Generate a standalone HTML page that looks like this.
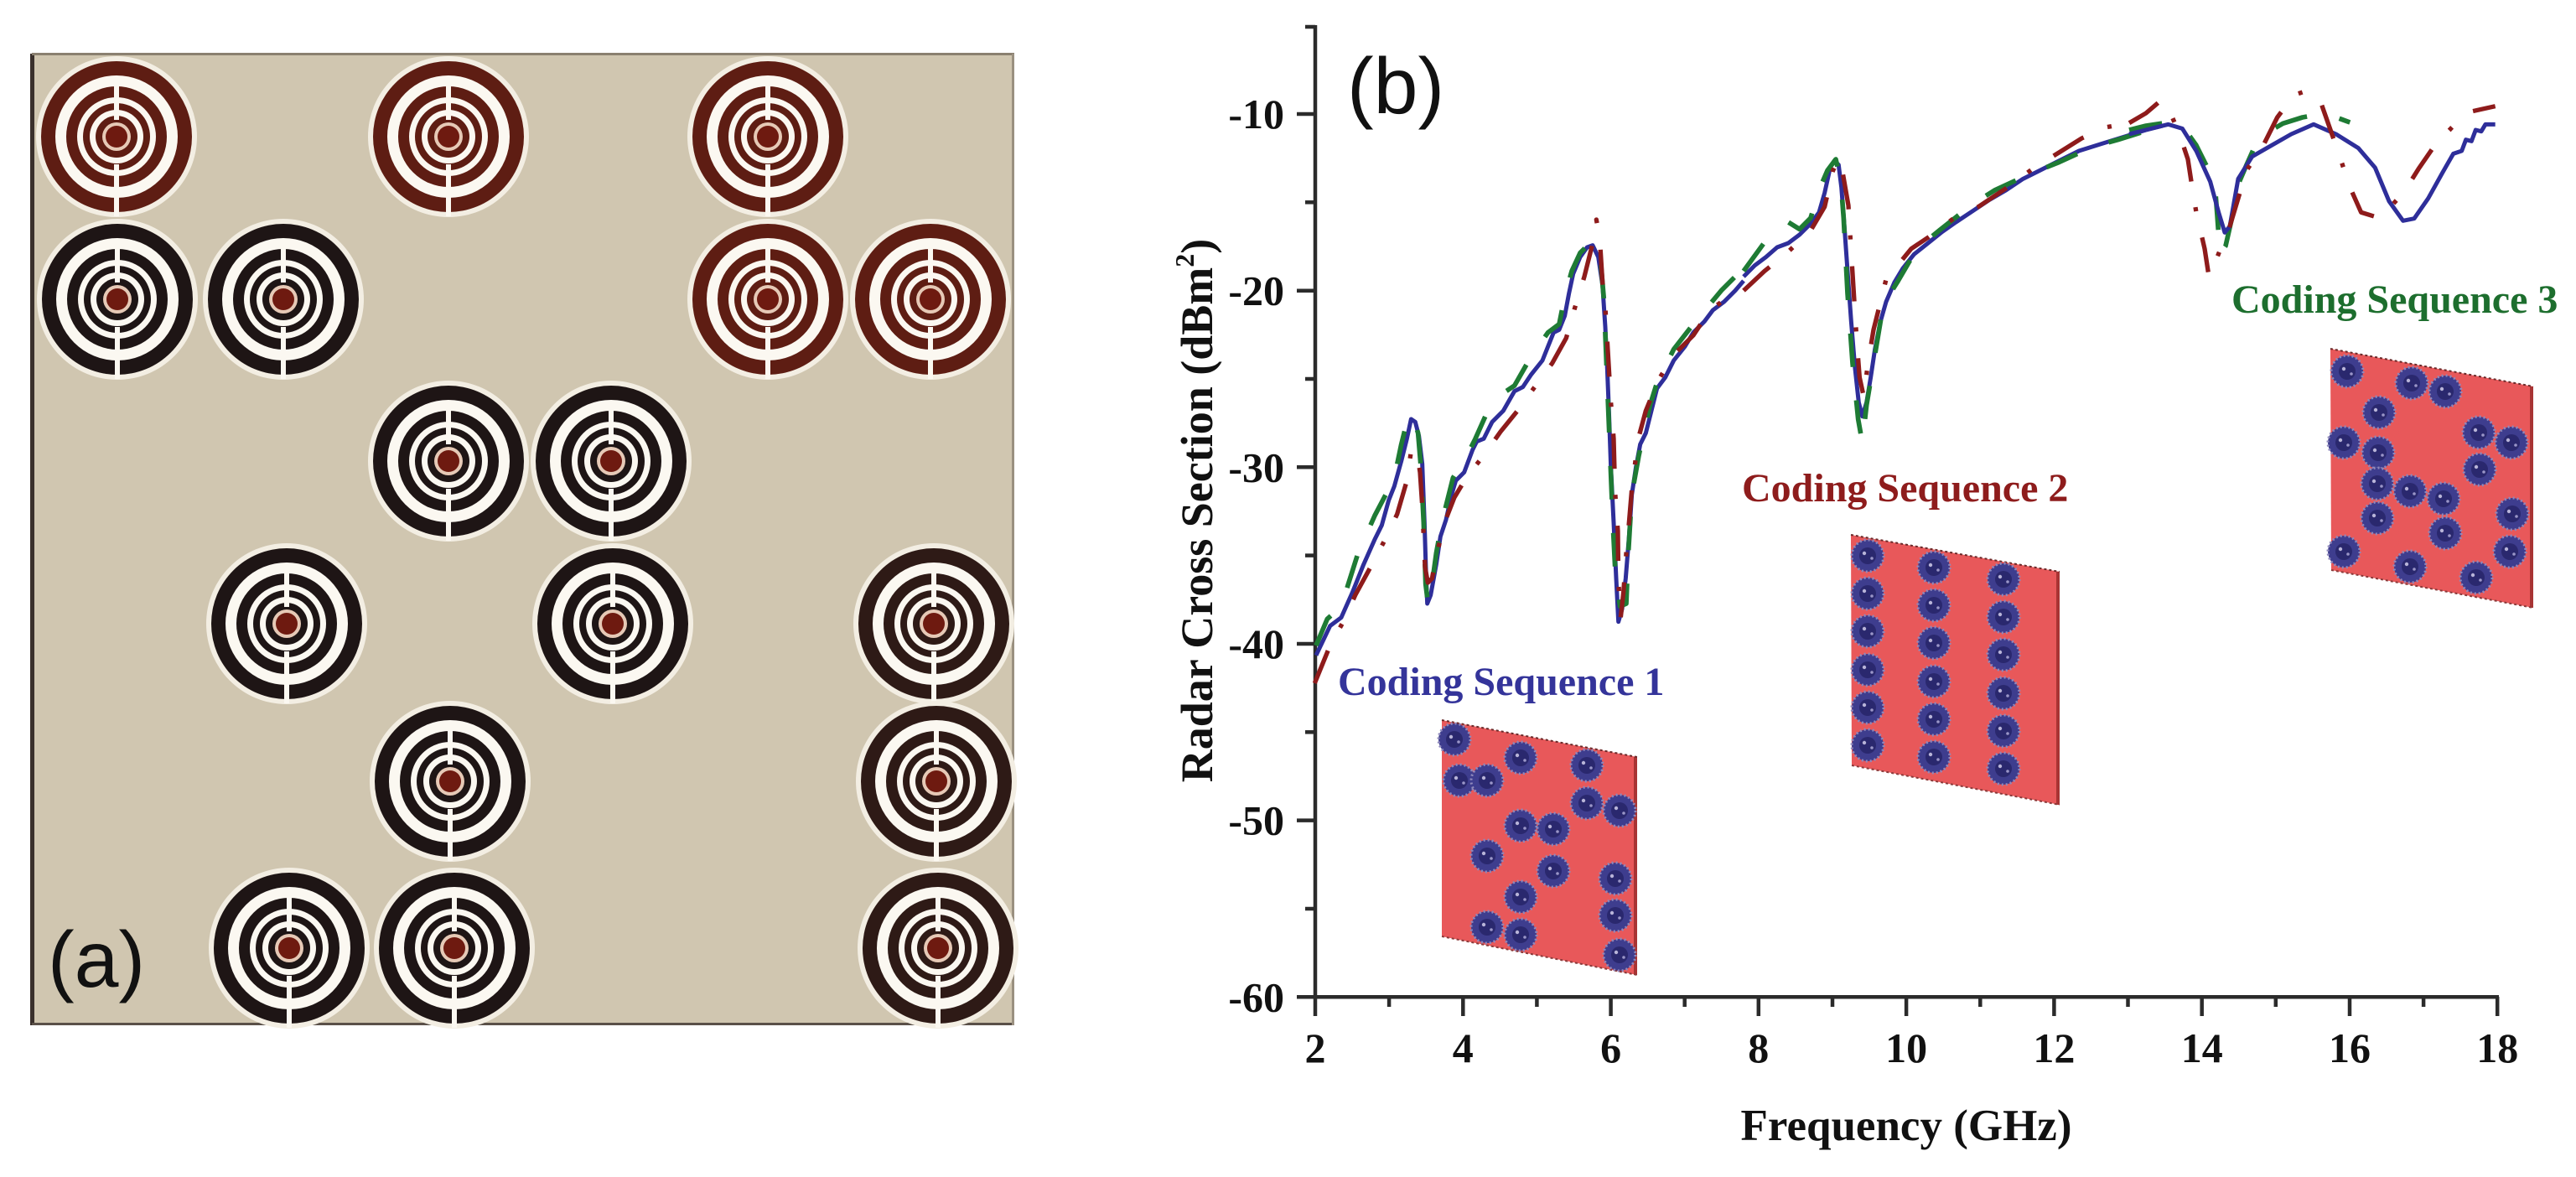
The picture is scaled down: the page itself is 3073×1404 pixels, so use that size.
<!DOCTYPE html>
<html>
<head>
<meta charset="utf-8">
<style>
html,body{margin:0;padding:0;background:#fff;}
svg{display:block;}
.tk{font-family:"Liberation Serif",serif;font-weight:bold;font-size:50px;fill:#111;}
.ttl{font-family:"Liberation Serif",serif;font-weight:bold;font-size:53px;fill:#111;}
.cs{font-family:"Liberation Serif",serif;font-weight:bold;font-size:48px;}
.lab{font-family:"Liberation Sans",sans-serif;font-size:95px;fill:#111;}
</style>
</head>
<body>
<svg width="3073" height="1404" viewBox="0 0 3073 1404" xmlns="http://www.w3.org/2000/svg">
<defs>
  <g id="res">
    <circle r="96" fill="#f3eee3"/>
    <circle r="90" fill="currentColor"/>
    <circle r="73" fill="#fbf8f1"/>
    <circle r="60" fill="currentColor"/>
    <circle r="47" fill="#fbf8f1"/>
    <circle r="40" fill="currentColor"/>
    <circle r="32" fill="#fbf8f1"/>
    <circle r="25" fill="currentColor"/>
    <circle r="17" fill="#e6c9b6"/>
    <circle r="13" fill="#6e1a10"/>
    <rect x="-3" y="-67" width="6" height="47" fill="#fbf8f1"/>
    <rect x="-3" y="33" width="6" height="62" fill="#fbf8f1"/>
  </g>
  <g id="cell">
    <circle r="19" fill="#3e3d8e" stroke="#8f89bc" stroke-width="3" stroke-dasharray="2 3"/>
    <circle r="10" fill="#2a286e"/>
    <circle cx="-4" cy="-3" r="2.2" fill="#b8b4d8"/>
    <circle cx="5" cy="3" r="1.8" fill="#9a96c8"/>
  </g>
</defs>

<!-- ===== Panel (a): photo ===== -->
<rect x="38" y="64" width="1172" height="1159" fill="#d0c6b0"/>
<rect x="36" y="64" width="5" height="1159" fill="#3a302c"/>
<rect x="38" y="63" width="1172" height="3" fill="#8a8070"/>
<rect x="38" y="1220" width="1172" height="3" fill="#5a5048"/>
<rect x="1207" y="64" width="3" height="1159" fill="#9a9080"/>

<g style="color:#5e1d13">
  <use href="#res" x="139" y="163"/>
  <use href="#res" x="535" y="163"/>
  <use href="#res" x="916" y="163"/>
  <use href="#res" x="916" y="357"/>
  <use href="#res" x="1110" y="357"/>
</g>
<g style="color:#1e1515">
  <use href="#res" x="140" y="357"/>
  <use href="#res" x="338" y="357"/>
  <use href="#res" x="535" y="550"/>
  <use href="#res" x="729" y="550"/>
  <use href="#res" x="342" y="744"/>
  <use href="#res" x="731" y="744"/>
  <use href="#res" x="537" y="932"/>
  <use href="#res" x="345" y="1131"/>
  <use href="#res" x="542" y="1131"/>
</g>
<g style="color:#2e1a16">
  <use href="#res" x="1114" y="744"/>
  <use href="#res" x="1117" y="932"/>
  <use href="#res" x="1119" y="1131"/>
</g>
<text class="lab" x="57" y="1177">(a)</text>

<!-- ===== Panel (b) ===== -->
<text class="lab" x="1607" y="135">(b)</text>

<!-- axes -->
<g stroke="#2b2b2b" stroke-width="4.5" fill="none">
  <line x1="1569" y1="30" x2="1569" y2="1191"/>
  <line x1="1547" y1="1189.3" x2="2981" y2="1189.3"/>
  <line x1="1547" y1="136" x2="1569" y2="136"/>
  <line x1="1547" y1="346.7" x2="1569" y2="346.7"/>
  <line x1="1547" y1="557.3" x2="1569" y2="557.3"/>
  <line x1="1547" y1="768" x2="1569" y2="768"/>
  <line x1="1547" y1="978.6" x2="1569" y2="978.6"/>
  <line x1="1557" y1="32" x2="1569" y2="32"/>
  <line x1="1557" y1="241.3" x2="1569" y2="241.3"/>
  <line x1="1557" y1="452" x2="1569" y2="452"/>
  <line x1="1557" y1="662.6" x2="1569" y2="662.6"/>
  <line x1="1557" y1="873.3" x2="1569" y2="873.3"/>
  <line x1="1557" y1="1084" x2="1569" y2="1084"/>
  <line x1="1569" y1="1189" x2="1569" y2="1212"/>
  <line x1="1745.3" y1="1189" x2="1745.3" y2="1212"/>
  <line x1="1921.6" y1="1189" x2="1921.6" y2="1212"/>
  <line x1="2097.8" y1="1189" x2="2097.8" y2="1212"/>
  <line x1="2274.1" y1="1189" x2="2274.1" y2="1212"/>
  <line x1="2450.4" y1="1189" x2="2450.4" y2="1212"/>
  <line x1="2626.7" y1="1189" x2="2626.7" y2="1212"/>
  <line x1="2803" y1="1189" x2="2803" y2="1212"/>
  <line x1="2979.2" y1="1189" x2="2979.2" y2="1212"/>
  <line x1="1657.1" y1="1189" x2="1657.1" y2="1201"/>
  <line x1="1833.4" y1="1189" x2="1833.4" y2="1201"/>
  <line x1="2009.7" y1="1189" x2="2009.7" y2="1201"/>
  <line x1="2186" y1="1189" x2="2186" y2="1201"/>
  <line x1="2362.3" y1="1189" x2="2362.3" y2="1201"/>
  <line x1="2538.5" y1="1189" x2="2538.5" y2="1201"/>
  <line x1="2714.8" y1="1189" x2="2714.8" y2="1201"/>
  <line x1="2891.1" y1="1189" x2="2891.1" y2="1201"/>
</g>

<!-- y tick labels -->
<g class="tk" text-anchor="end">
  <text x="1532" y="153">-10</text>
  <text x="1532" y="363.7">-20</text>
  <text x="1532" y="574.3">-30</text>
  <text x="1532" y="785">-40</text>
  <text x="1532" y="995.6">-50</text>
  <text x="1532" y="1206.3">-60</text>
</g>
<!-- x tick labels -->
<g class="tk" text-anchor="middle">
  <text x="1569" y="1267">2</text>
  <text x="1745.3" y="1267">4</text>
  <text x="1921.6" y="1267">6</text>
  <text x="2097.8" y="1267">8</text>
  <text x="2274.1" y="1267">10</text>
  <text x="2450.4" y="1267">12</text>
  <text x="2626.7" y="1267">14</text>
  <text x="2803" y="1267">16</text>
  <text x="2979.2" y="1267">18</text>
</g>

<!-- axis titles -->
<text class="ttl" x="2274" y="1360" text-anchor="middle">Frequency (GHz)</text>
<text class="ttl" style="font-size:54px" transform="translate(1446 609) rotate(-90)" text-anchor="middle">Radar Cross Section (dBm<tspan font-size="32" dy="-22">2</tspan><tspan dy="22">)</tspan></text>

<!-- insets -->
<g>
  <polygon points="1720,859 1953,903 1953,1163 1720,1117" fill="#e8585a"/>
  <line x1="1951" y1="903" x2="1951" y2="1163" stroke="#a83434" stroke-width="4"/>
  <line x1="1720" y1="859" x2="1953" y2="903" stroke="#6a2a2a" stroke-width="2" stroke-dasharray="3 3"/>
  <line x1="1720" y1="1117" x2="1953" y2="1163" stroke="#8a3a3a" stroke-width="2" stroke-dasharray="3 3"/>
  <use href="#cell" x="1735" y="882"/>
  <use href="#cell" x="1741" y="931"/>
  <use href="#cell" x="1774" y="931"/>
  <use href="#cell" x="1814" y="904"/>
  <use href="#cell" x="1893" y="913"/>
  <use href="#cell" x="1814" y="985"/>
  <use href="#cell" x="1853" y="989"/>
  <use href="#cell" x="1893" y="958"/>
  <use href="#cell" x="1932" y="967"/>
  <use href="#cell" x="1774" y="1021"/>
  <use href="#cell" x="1853" y="1039"/>
  <use href="#cell" x="1814" y="1070"/>
  <use href="#cell" x="1927" y="1048"/>
  <use href="#cell" x="1927" y="1092"/>
  <use href="#cell" x="1774" y="1106"/>
  <use href="#cell" x="1814" y="1115"/>
  <use href="#cell" x="1932" y="1139"/>
</g>
<g>
  <polygon points="2208,638 2457,682 2457,960 2209,913" fill="#e8585a"/>
  <line x1="2455" y1="682" x2="2455" y2="960" stroke="#a83434" stroke-width="4"/>
  <line x1="2208" y1="638" x2="2457" y2="682" stroke="#6a2a2a" stroke-width="2" stroke-dasharray="3 3"/>
  <line x1="2209" y1="913" x2="2457" y2="960" stroke="#8a3a3a" stroke-width="2" stroke-dasharray="3 3"/>
  <use href="#cell" x="2228" y="663"/><use href="#cell" x="2228" y="708"/><use href="#cell" x="2228" y="753"/>
  <use href="#cell" x="2228" y="799"/><use href="#cell" x="2228" y="844"/><use href="#cell" x="2228" y="889"/>
  <use href="#cell" x="2307" y="677"/><use href="#cell" x="2307" y="722"/><use href="#cell" x="2307" y="767"/>
  <use href="#cell" x="2307" y="813"/><use href="#cell" x="2307" y="858"/><use href="#cell" x="2307" y="903"/>
  <use href="#cell" x="2390" y="691"/><use href="#cell" x="2390" y="736"/><use href="#cell" x="2390" y="781"/>
  <use href="#cell" x="2390" y="827"/><use href="#cell" x="2390" y="872"/><use href="#cell" x="2390" y="917"/>
</g>
<g>
  <polygon points="2780,416 3022,461 3022,725 2781,680" fill="#e8585a"/>
  <line x1="3020" y1="461" x2="3020" y2="725" stroke="#a83434" stroke-width="4"/>
  <line x1="2780" y1="416" x2="3022" y2="461" stroke="#6a2a2a" stroke-width="2" stroke-dasharray="3 3"/>
  <line x1="2781" y1="680" x2="3022" y2="725" stroke="#8a3a3a" stroke-width="2" stroke-dasharray="3 3"/>
  <use href="#cell" x="2800" y="443"/>
  <use href="#cell" x="2877" y="457"/>
  <use href="#cell" x="2917" y="467"/>
  <use href="#cell" x="2838" y="492"/>
  <use href="#cell" x="2957" y="516"/>
  <use href="#cell" x="2796" y="528"/>
  <use href="#cell" x="2837" y="540"/>
  <use href="#cell" x="2996" y="528"/>
  <use href="#cell" x="2836" y="577"/>
  <use href="#cell" x="2875" y="586"/>
  <use href="#cell" x="2915" y="595"/>
  <use href="#cell" x="2958" y="560"/>
  <use href="#cell" x="2997" y="613"/>
  <use href="#cell" x="2836" y="618"/>
  <use href="#cell" x="2917" y="636"/>
  <use href="#cell" x="2796" y="658"/>
  <use href="#cell" x="2994" y="658"/>
  <use href="#cell" x="2875" y="676"/>
  <use href="#cell" x="2954" y="689"/>
</g>

<!-- labels -->
<text class="cs" x="1596" y="829" fill="#34349a">Coding Sequence 1</text>
<text class="cs" x="2078" y="598" fill="#8e1c1c">Coding Sequence 2</text>
<text class="cs" x="2662" y="373" fill="#1d6e2e">Coding Sequence 3</text>

<!-- ===== curves ===== -->
<g transform="translate(1560 290) scale(0.333333)" fill="none" stroke-linejoin="round">
  <path stroke="#2e2e9a" stroke-width="15" d="M30,1475 L80,1370 L120,1340 L160,1250 L200,1150 L240,1060 L265,1010 L290,920 L310,870 L335,780 L355,700 L370,630 L385,640 L398,690 L410,790 L418,1000 L424,1200 L428,1290 L440,1260 L460,1150 L475,1050 L495,990 L515,900 L530,850 L560,820 L590,740 L605,710 L630,700 L660,640 L700,600 L740,530 L770,515 L800,470 L840,420 L860,370 L880,320 L900,310 L920,260 L935,180 L950,110 L975,50 L1000,15 L1020,8 L1040,50 L1055,150 L1065,300 L1072,450 L1078,600 L1085,800 L1095,1000 L1104,1200 L1112,1355 L1125,1310 L1138,1200 L1150,1050 L1160,900 L1175,800 L1190,720 L1210,680 L1230,600 L1250,520 L1280,480 L1310,420 L1350,370 L1380,320 L1420,280 L1450,240 L1490,210 L1530,170 L1560,135"/>
  <path stroke="#1e7b34" stroke-width="17" stroke-dasharray="120 120" d="M30,1440 L70,1345 L120,1300 L180,1110 L240,975 L290,880 L310,840 L335,720 L360,620 L378,625 L395,680 L405,800 L415,1000 L422,1220 L430,1285 L445,1220 L460,1110 L480,1000 L520,840 L570,760 L600,700 L640,610 L710,530 L740,510 L800,405 L860,320 L900,290 L920,190 L945,100 L975,35 L1005,5 L1030,5 L1048,60 L1060,200 L1070,450 L1080,700 L1092,1000 L1102,1200 L1118,1300 L1140,1290 L1148,1100 L1160,900 L1185,760 L1225,580 L1250,500 L1310,380 L1380,290 L1480,170 L1550,100"/>
  <path stroke="#8e1b1b" stroke-width="16" stroke-dasharray="126 93 15 96" d="M25,1575 L80,1440 L130,1350 L170,1260 L230,1150 L280,1055 L320,970 L355,850 L370,745 L390,740 L402,820 L410,940 L420,1160 L430,1215 L445,1200 L460,1120 L490,1000 L525,910 L570,835 L630,760 L690,675 L755,595 L805,525 L875,430 L925,340 L955,235 L990,120 L1020,0 L1033,-84 L1045,-20 L1055,140 L1065,230 L1075,400 L1085,570 L1095,700 L1100,890 L1110,1030 L1112,1210 L1120,1340 L1130,1250 L1140,1110 L1150,1000 L1160,880 L1183,700 L1210,600 L1255,490 L1310,400 L1380,330 L1440,240 L1550,160"/>
</g>

<g transform="translate(2080 150) scale(0.333333)" fill="none" stroke-linejoin="round">
  <path stroke="#2e2e9a" stroke-width="15" d="M0,540 L40,500 L80,470 L120,435 L160,420 L200,390 L240,350 L270,310 L290,240 L310,150 L325,125 L340,140 L350,220 L360,350 L372,520 L385,700 L398,860 L412,990 L425,1040 L440,990 L455,900 L470,800 L490,700 L510,630 L540,560 L570,510 L610,460 L660,420 L710,380 L760,345 L820,305 L880,265 L940,230 L1000,190 L1060,160 L1130,125 L1200,90 L1280,65 L1360,40 L1440,15 L1500,0"/>
  <path stroke="#1e7b34" stroke-width="17" stroke-dasharray="120 120" d="M0,520 L80,410 L160,345 L200,370 L240,330 L270,230 L300,160 L330,120 L348,200 L358,330 L372,600 L390,850 L410,1050 L425,1135 L440,1000 L470,820 L500,640 L550,560 L620,440 L700,375 L820,280 L900,230 L1030,170 L1130,130 L1250,75 L1340,50 L1500,0"/>
  <path stroke="#8e1b1b" stroke-width="16" stroke-dasharray="126 93 15 96" d="M0,590 L75,520 L150,460 L240,375 L290,290 L320,160 L340,118 L355,170 L375,285 L385,450 L395,610 L405,770 L415,900 L430,970 L445,850 L465,730 L490,630 L510,550 L600,440 L660,400 L760,325 L840,290 L960,210 L1040,150 L1130,95 L1210,45 L1300,5 L1380,-10"/>
</g>

<g transform="translate(2560 40) scale(0.333333)" fill="none" stroke-linejoin="round">
  <path stroke="#1e7b34" stroke-width="17" stroke-dasharray="120 120" d="M-60,345 L0,330 L80,318 L130,330 L180,400 L220,480 L245,520 L255,650 L265,790 L285,760 L310,650 L330,540 L360,470 L400,380 L450,345 L490,322 L560,300 L640,285 L730,318"/>
  <path stroke="#2e2e9a" stroke-width="15" d="M-60,360 L0,345 L80,325 L130,340 L180,420 L230,530 L260,640 L282,712 L300,690 L330,520 L380,440 L450,400 L520,360 L600,325 L680,360 L760,410 L820,480 L870,600 L920,670 L960,662 L1010,590 L1060,500 L1100,430 L1130,420 L1145,380 L1165,385 L1180,345 L1200,350 L1215,325 L1250,325"/>
  <path stroke="#8e1b1b" stroke-width="16" stroke-dasharray="126 93 15 96" d="M-60,320 L0,285 L55,238 L90,290 L120,360 L150,450 L165,548 L180,640 L210,770 L225,868 L240,840 L255,800 L300,690 L360,490 L420,400 L470,300 L530,220 L575,205 L620,230 L655,330 L690,430 L730,550 L770,640 L835,660 L880,615 L925,565 L975,485 L1030,405 L1110,320 L1160,280 L1250,260"/>
</g>
</svg>
</body>
</html>
